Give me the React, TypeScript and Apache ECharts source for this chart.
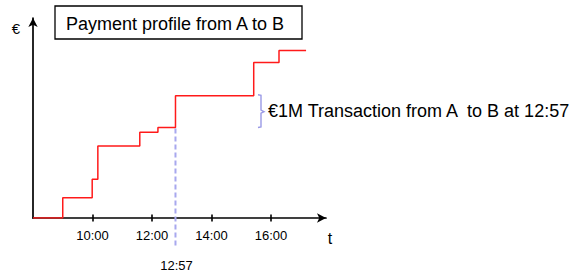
import React, { useEffect, useRef } from 'react';
import * as echarts from 'echarts';

// Payment profile (cumulative €M) by time of day (hours)
const times = [8, 9.0, 9.99, 10.18, 11.59, 12.2, 12.79, 15.42, 16.27, 17.18];
const values = [0, 0.64, 1.22, 2.27, 2.7, 2.85, 3.85, 4.9, 5.28, 5.28];
const tickHours = [10, 12, 14, 16];
const transactionIndex = 6;
const transactionLabel = '12:57';
const titleText = 'Payment profile from A to B';
const annotationText = '€1M Transaction from A  to B at 12:57';
const yName = '€';
const xName = 't';

const FONT = '"Liberation Sans", Arial, sans-serif';

export default function App() {
  const ref = useRef<HTMLDivElement>(null);
  useEffect(() => {
    document.body.style.margin = '0';
    const chart = echarts.init(ref.current!, null, { renderer: 'svg' });
    const axisLineStyle = { color: '#000', width: 1.7 };
    const tickStyle = { color: '#000', width: 1.6 };
    chart.setOption({
      animation: false,
      grid: { left: 33, right: 254, top: 18, bottom: 55 },
      xAxis: [
        {
          type: 'value', min: 8, max: 17.85,
          axisLine: { show: true, onZero: false, lineStyle: axisLineStyle, symbol: ['none', 'arrow'], symbolSize: [7, 9] },
          splitLine: { show: false },
          axisTick: { show: true, customValues: tickHours, length: 3.5, lineStyle: tickStyle },
          axisLabel: {
            customValues: tickHours,
            formatter: (v: number) => `${v}:00`,
            margin: 11, fontSize: 13, color: '#000', fontFamily: FONT,
          },
        },
        {
          type: 'value', min: 8, max: 17.85, position: 'bottom',
          axisLine: { show: false },
          splitLine: { show: false },
          axisTick: { show: true, inside: true, customValues: tickHours, length: 3.5, lineStyle: tickStyle },
          axisLabel: { show: false },
        },
      ],
      yAxis: {
        type: 'value', min: 0, max: 6.3,
        axisLine: { show: true, onZero: false, lineStyle: axisLineStyle, symbol: ['none', 'arrow'], symbolSize: [7, 9] },
        axisTick: { show: false },
        axisLabel: { show: false },
        splitLine: { show: false },
      },
      series: [
        {
          type: 'line', step: 'end', xAxisIndex: 0, symbol: 'none',
          data: times.map((t, i) => [t, values[i]]),
          lineStyle: { color: '#ff1a1a', width: 1.5 },
          z: 3,
        },
      ],
    });

    const bottom = chart.convertToPixel({ gridIndex: 0 }, [times[transactionIndex], values[transactionIndex - 1]]) as number[];
    const top = chart.convertToPixel({ gridIndex: 0 }, [times[transactionIndex], values[transactionIndex]]) as number[];
    const base = chart.convertToPixel({ gridIndex: 0 }, [times[transactionIndex], 0]) as number[];
    const braceX = 261;
    const midY = (bottom[1] + top[1]) / 2;
    const lav = '#9a9ae6';

    chart.setOption({
      graphic: [
        {
          type: 'rect', shape: { x: 55, y: 6, width: 247, height: 33 },
          style: { fill: '#fff', stroke: '#000', lineWidth: 1.3 }, z: 10,
        },
        {
          type: 'text', x: 66, y: 23.5, z: 11,
          style: { text: titleText, font: `18px ${FONT}`, fill: '#000', verticalAlign: 'middle', align: 'left' },
        },
        {
          type: 'text', x: 16, y: 28,
          style: { text: yName, font: `15px ${FONT}`, fill: '#000', verticalAlign: 'middle', align: 'center' },
        },
        {
          type: 'text', x: 330, y: 238,
          style: { text: xName, font: `16px ${FONT}`, fill: '#000', verticalAlign: 'middle', align: 'center' },
        },
        {
          type: 'line', z: 2,
          shape: { x1: bottom[0], y1: bottom[1] + 1, x2: bottom[0], y2: base[1] + 29 },
          style: { stroke: '#a8a8ee', lineWidth: 2, lineDash: [5, 3] },
        },
        {
          type: 'text', x: bottom[0] + 1, y: base[1] + 47,
          style: { text: transactionLabel, font: `13px ${FONT}`, fill: '#000', verticalAlign: 'middle', align: 'center' },
        },
        {
          type: 'polyline',
          shape: {
            points: [
              [braceX - 3, top[1] - 1], [braceX, top[1] - 0.5], [braceX, midY - 1.5],
              [braceX + 3, midY], [braceX, midY + 1.5], [braceX, bottom[1] - 0.5], [braceX - 3, bottom[1]],
            ],
          },
          style: { stroke: lav, lineWidth: 1.4, fill: 'none' },
        },
        {
          type: 'text', x: 268, y: midY - 1,
          style: { text: annotationText, font: `18px ${FONT}`, fill: '#000', verticalAlign: 'middle', align: 'left' },
        },
      ],
    });
    return () => chart.dispose();
  }, []);
  return <div ref={ref} style={{ width: 580, height: 273 }} />;
}
